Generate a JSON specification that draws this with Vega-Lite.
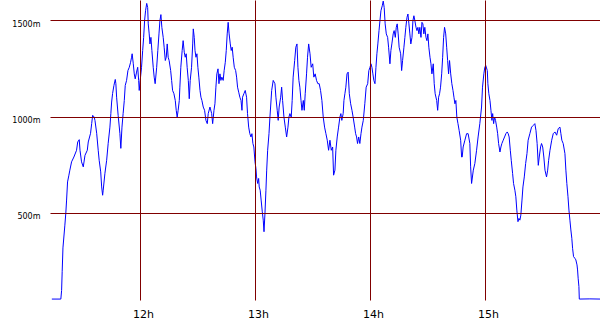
{
  "$schema": "https://vega.github.io/schema/vega-lite/v6.json",
  "width": 550,
  "height": 300,
  "autosize": {"type": "none"},
  "padding": {"left": 50, "top": 0, "right": 0, "bottom": 30},
  "background": "white",
  "config": {"view": {"stroke": null}},
  "data": {"values": [
    {"min":14.0,"alt":54},{"min":16.7,"alt":54},{"min":18.7,"alt":54},{"min":19.1,"alt":98},{"min":19.4,"alt":196},{"min":19.8,"alt":319},{"min":20.8,"alt":437},{"min":21.3,"alt":500},{"min":21.7,"alt":567},{"min":22.2,"alt":661},
    {"min":22.9,"alt":696},{"min":23.4,"alt":722},{"min":24.3,"alt":765},{"min":25.5,"alt":790},{"min":26.9,"alt":825},{"min":27.5,"alt":868},{"min":28.3,"alt":880},{"min":28.7,"alt":825},{"min":29.5,"alt":765},{"min":30.4,"alt":739},
    {"min":31.3,"alt":799},{"min":32.5,"alt":825},{"min":33.0,"alt":868},{"min":34.2,"alt":913},{"min":34.8,"alt":964},{"min":35.3,"alt":1006},{"min":36.1,"alt":997},{"min":36.5,"alt":980},{"min":37.4,"alt":913},{"min":38.2,"alt":825},
    {"min":38.7,"alt":773},{"min":39.5,"alt":713},{"min":40.0,"alt":635},{"min":40.5,"alt":592},{"min":40.8,"alt":618},{"min":41.7,"alt":706},{"min":42.6,"alt":773},{"min":43.4,"alt":861},{"min":44.3,"alt":945},{"min":44.8,"alt":1016},
    {"min":45.2,"alt":1075},{"min":45.7,"alt":1119},{"min":46.4,"alt":1161},{"min":47.1,"alt":1192},{"min":47.4,"alt":1171},{"min":47.8,"alt":1100},{"min":48.6,"alt":1006},{"min":49.5,"alt":913},{"min":50.0,"alt":835},{"min":50.6,"alt":945},
    {"min":51.2,"alt":1016},{"min":51.8,"alt":1083},{"min":52.3,"alt":1161},{"min":53.0,"alt":1187},{"min":53.7,"alt":1238},{"min":54.4,"alt":1255},{"min":55.1,"alt":1281},{"min":55.6,"alt":1307},{"min":55.9,"alt":1325},{"min":56.5,"alt":1273},
    {"min":57.0,"alt":1221},{"min":57.5,"alt":1195},{"min":58.2,"alt":1230},{"min":58.8,"alt":1255},{"min":59.3,"alt":1187},{"min":59.6,"alt":1135},{"min":60.1,"alt":1187},{"min":60.8,"alt":1255},{"min":61.4,"alt":1342},{"min":61.9,"alt":1410},
    {"min":62.4,"alt":1497},{"min":62.9,"alt":1548},{"min":63.5,"alt":1586},{"min":64.0,"alt":1565},{"min":64.3,"alt":1480},{"min":64.8,"alt":1428},{"min":65.2,"alt":1376},{"min":65.7,"alt":1410},{"min":66.2,"alt":1342},{"min":66.9,"alt":1255},
    {"min":67.4,"alt":1204},{"min":67.9,"alt":1170},{"min":68.7,"alt":1255},{"min":69.3,"alt":1342},{"min":69.9,"alt":1428},{"min":70.4,"alt":1497},{"min":70.9,"alt":1528},{"min":71.4,"alt":1462},{"min":72.1,"alt":1410},{"min":72.6,"alt":1359},
    {"min":73.2,"alt":1290},{"min":73.7,"alt":1307},{"min":74.2,"alt":1376},{"min":74.7,"alt":1307},{"min":75.2,"alt":1290},{"min":76.0,"alt":1238},{"min":76.5,"alt":1187},{"min":77.0,"alt":1135},{"min":77.7,"alt":1118},{"min":78.4,"alt":1083},
    {"min":78.9,"alt":1032},{"min":79.4,"alt":997},{"min":79.9,"alt":1032},{"min":80.5,"alt":1083},{"min":80.8,"alt":1152},{"min":81.3,"alt":1255},{"min":82.0,"alt":1342},{"min":82.5,"alt":1393},{"min":83.1,"alt":1333},{"min":83.6,"alt":1307},
    {"min":84.1,"alt":1325},{"min":84.6,"alt":1255},{"min":85.2,"alt":1187},{"min":85.7,"alt":1092},{"min":86.2,"alt":1187},{"min":86.9,"alt":1255},{"min":87.5,"alt":1376},{"min":87.8,"alt":1454},{"min":88.3,"alt":1410},{"min":88.7,"alt":1342},
    {"min":89.2,"alt":1307},{"min":89.7,"alt":1325},{"min":90.2,"alt":1255},{"min":90.7,"alt":1204},{"min":91.3,"alt":1135},{"min":91.8,"alt":1100},{"min":92.3,"alt":1083},{"min":93.0,"alt":1049},{"min":93.7,"alt":1032},{"min":94.4,"alt":980},
    {"min":95.1,"alt":963},{"min":95.6,"alt":1015},{"min":96.5,"alt":1049},{"min":97.4,"alt":1015},{"min":97.9,"alt":963},{"min":98.6,"alt":1032},{"min":99.1,"alt":1066},{"min":99.6,"alt":1152},{"min":100.1,"alt":1221},{"min":100.7,"alt":1247},
    {"min":101.2,"alt":1170},{"min":101.7,"alt":1221},{"min":102.2,"alt":1187},{"min":102.7,"alt":1204},{"min":103.4,"alt":1187},{"min":103.9,"alt":1238},{"min":104.5,"alt":1281},{"min":105.0,"alt":1342},{"min":105.5,"alt":1428},{"min":106.0,"alt":1488},
    {"min":106.5,"alt":1428},{"min":107.1,"alt":1376},{"min":107.6,"alt":1342},{"min":108.1,"alt":1359},{"min":108.6,"alt":1307},{"min":109.2,"alt":1255},{"min":109.9,"alt":1238},{"min":110.4,"alt":1204},{"min":110.9,"alt":1152},{"min":111.5,"alt":1126},
    {"min":112.1,"alt":1100},{"min":112.7,"alt":1083},{"min":113.2,"alt":1032},{"min":113.5,"alt":1100},{"min":114.2,"alt":1118},{"min":114.9,"alt":1135},{"min":115.6,"alt":1100},{"min":116.1,"alt":1015},{"min":116.7,"alt":945},{"min":117.3,"alt":911},
    {"min":117.9,"alt":894},{"min":118.4,"alt":911},{"min":118.9,"alt":860},{"min":119.4,"alt":842},{"min":120.0,"alt":765},{"min":120.5,"alt":730},{"min":120.8,"alt":687},{"min":121.4,"alt":653},{"min":121.9,"alt":679},{"min":122.2,"alt":635},
    {"min":122.7,"alt":618},{"min":123.2,"alt":567},{"min":123.8,"alt":506},{"min":124.3,"alt":463},{"min":124.7,"alt":403},{"min":125.2,"alt":498},{"min":125.7,"alt":618},{"min":126.1,"alt":722},{"min":126.6,"alt":825},{"min":127.3,"alt":911},
    {"min":127.8,"alt":997},{"min":128.7,"alt":1135},{"min":129.5,"alt":1187},{"min":130.4,"alt":1170},{"min":130.9,"alt":1100},{"min":131.6,"alt":1032},{"min":132.1,"alt":980},{"min":132.6,"alt":1049},{"min":133.4,"alt":1100},{"min":133.9,"alt":1152},
    {"min":134.4,"alt":1083},{"min":135.1,"alt":997},{"min":135.8,"alt":945},{"min":136.5,"alt":894},{"min":137.2,"alt":945},{"min":137.7,"alt":997},{"min":138.2,"alt":1015},{"min":138.9,"alt":997},{"min":139.4,"alt":1083},{"min":139.9,"alt":1204},
    {"min":140.7,"alt":1290},{"min":141.3,"alt":1359},{"min":141.9,"alt":1376},{"min":142.4,"alt":1255},{"min":142.9,"alt":1187},{"min":143.4,"alt":1152},{"min":144.0,"alt":1083},{"min":144.5,"alt":1032},{"min":145.2,"alt":1083},{"min":145.7,"alt":1032},
    {"min":146.2,"alt":1118},{"min":146.9,"alt":1221},{"min":147.4,"alt":1307},{"min":148.0,"alt":1376},{"min":148.7,"alt":1325},{"min":149.3,"alt":1255},{"min":150.1,"alt":1273},{"min":150.7,"alt":1204},{"min":151.4,"alt":1221},{"min":152.1,"alt":1187},
    {"min":152.8,"alt":1170},{"min":153.5,"alt":1170},{"min":154.2,"alt":1135},{"min":154.9,"alt":1083},{"min":155.6,"alt":997},{"min":156.3,"alt":945},{"min":157.0,"alt":911},{"min":157.7,"alt":877},{"min":158.4,"alt":825},{"min":159.1,"alt":877},
    {"min":159.8,"alt":825},{"min":160.5,"alt":842},{"min":161.0,"alt":696},{"min":161.7,"alt":722},{"min":162.2,"alt":825},{"min":162.9,"alt":894},{"min":163.6,"alt":945},{"min":164.3,"alt":997},{"min":164.8,"alt":1015},{"min":165.3,"alt":980},
    {"min":166.0,"alt":1015},{"min":166.4,"alt":1083},{"min":166.9,"alt":1118},{"min":167.4,"alt":1152},{"min":168.0,"alt":1221},{"min":168.6,"alt":1230},{"min":169.2,"alt":1118},{"min":169.9,"alt":1066},{"min":170.6,"alt":1032},{"min":171.2,"alt":997},
    {"min":172.0,"alt":945},{"min":172.5,"alt":911},{"min":173.0,"alt":894},{"min":173.5,"alt":860},{"min":174.1,"alt":894},{"min":174.7,"alt":860},{"min":175.3,"alt":911},{"min":175.8,"alt":945},{"min":176.5,"alt":980},{"min":177.3,"alt":1066},
    {"min":178.0,"alt":1152},{"min":178.8,"alt":1170},{"min":179.4,"alt":1238},{"min":180.0,"alt":1255},{"min":180.5,"alt":1273},{"min":181.0,"alt":1255},{"min":181.5,"alt":1221},{"min":182.0,"alt":1187},{"min":182.6,"alt":1170},{"min":183.1,"alt":1255},
    {"min":183.6,"alt":1325},{"min":184.1,"alt":1376},{"min":184.7,"alt":1445},{"min":185.2,"alt":1497},{"min":185.7,"alt":1548},{"min":186.4,"alt":1574},{"min":186.9,"alt":1598},{"min":187.4,"alt":1565},{"min":187.9,"alt":1480},{"min":188.5,"alt":1428},
    {"min":189.2,"alt":1410},{"min":189.7,"alt":1359},{"min":190.4,"alt":1273},{"min":190.9,"alt":1342},{"min":191.4,"alt":1376},{"min":192.1,"alt":1428},{"min":192.6,"alt":1445},{"min":193.2,"alt":1410},{"min":193.7,"alt":1462},{"min":194.2,"alt":1480},
    {"min":194.7,"alt":1428},{"min":195.2,"alt":1359},{"min":196.0,"alt":1325},{"min":196.5,"alt":1238},{"min":197.0,"alt":1290},{"min":197.7,"alt":1359},{"min":198.2,"alt":1410},{"min":198.7,"alt":1462},{"min":199.3,"alt":1514},{"min":199.8,"alt":1531},
    {"min":200.3,"alt":1480},{"min":200.8,"alt":1428},{"min":201.3,"alt":1376},{"min":201.9,"alt":1410},{"min":202.4,"alt":1497},{"min":202.9,"alt":1522},{"min":203.4,"alt":1497},{"min":204.0,"alt":1462},{"min":204.5,"alt":1445},{"min":205.0,"alt":1462},
    {"min":205.5,"alt":1428},{"min":206.0,"alt":1462},{"min":206.6,"alt":1410},{"min":207.1,"alt":1488},{"min":207.6,"alt":1480},{"min":208.1,"alt":1428},{"min":208.6,"alt":1462},{"min":209.2,"alt":1410},{"min":209.7,"alt":1393},{"min":210.2,"alt":1428},
    {"min":210.7,"alt":1359},{"min":211.3,"alt":1307},{"min":211.8,"alt":1273},{"min":212.3,"alt":1221},{"min":213.0,"alt":1273},{"min":213.5,"alt":1170},{"min":214.0,"alt":1118},{"min":214.8,"alt":1083},{"min":215.3,"alt":1032},{"min":215.8,"alt":1100},
    {"min":216.3,"alt":1118},{"min":216.8,"alt":1152},{"min":217.4,"alt":1221},{"min":217.9,"alt":1307},{"min":218.4,"alt":1410},{"min":218.9,"alt":1462},{"min":219.5,"alt":1428},{"min":220.0,"alt":1359},{"min":220.5,"alt":1290},{"min":221.0,"alt":1221},
    {"min":221.5,"alt":1290},{"min":222.1,"alt":1221},{"min":222.7,"alt":1170},{"min":223.3,"alt":1135},{"min":223.8,"alt":1100},{"min":224.3,"alt":1066},{"min":224.8,"alt":1083},{"min":225.3,"alt":997},{"min":225.9,"alt":963},{"min":226.5,"alt":928},
    {"min":227.3,"alt":877},{"min":227.8,"alt":790},{"min":228.1,"alt":790},{"min":228.6,"alt":842},{"min":229.5,"alt":877},{"min":230.4,"alt":911},{"min":231.2,"alt":911},{"min":232.1,"alt":860},{"min":232.5,"alt":739},{"min":233.0,"alt":653},
    {"min":233.9,"alt":722},{"min":234.7,"alt":756},{"min":235.6,"alt":825},{"min":236.4,"alt":894},{"min":237.3,"alt":963},{"min":238.2,"alt":1049},{"min":238.7,"alt":1152},{"min":239.4,"alt":1221},{"min":239.9,"alt":1255},{"min":240.4,"alt":1264},
    {"min":241.2,"alt":1238},{"min":241.5,"alt":1170},{"min":242.0,"alt":1118},{"min":242.6,"alt":1083},{"min":243.1,"alt":1032},{"min":243.6,"alt":980},{"min":244.0,"alt":1015},{"min":244.5,"alt":963},{"min":245.0,"alt":997},{"min":245.5,"alt":980},
    {"min":246.1,"alt":945},{"min":246.6,"alt":911},{"min":247.1,"alt":860},{"min":247.8,"alt":816},{"min":248.3,"alt":842},{"min":248.8,"alt":860},{"min":249.5,"alt":877},{"min":250.2,"alt":894},{"min":250.9,"alt":911},{"min":251.6,"alt":920},
    {"min":252.1,"alt":911},{"min":252.6,"alt":894},{"min":253.2,"alt":825},{"min":253.7,"alt":773},{"min":254.4,"alt":705},{"min":254.9,"alt":653},{"min":255.6,"alt":618},{"min":256.1,"alt":584},{"min":256.6,"alt":515},{"min":257.2,"alt":455},
    {"min":257.7,"alt":472},{"min":258.2,"alt":463},{"min":258.7,"alt":489},{"min":259.3,"alt":567},{"min":259.8,"alt":635},{"min":260.5,"alt":687},{"min":261.2,"alt":756},{"min":261.9,"alt":808},{"min":262.5,"alt":877},{"min":263.4,"alt":911},
    {"min":264.3,"alt":945},{"min":265.2,"alt":954},{"min":266.0,"alt":963},{"min":266.6,"alt":928},{"min":267.2,"alt":860},{"min":267.8,"alt":747},{"min":268.3,"alt":790},{"min":269.0,"alt":842},{"min":269.5,"alt":860},{"min":270.1,"alt":842},
    {"min":270.7,"alt":790},{"min":271.3,"alt":722},{"min":272.1,"alt":687},{"min":272.7,"alt":722},{"min":273.2,"alt":773},{"min":273.9,"alt":825},{"min":274.8,"alt":877},{"min":275.6,"alt":911},{"min":276.5,"alt":920},{"min":277.4,"alt":903},
    {"min":278.2,"alt":937},{"min":279.1,"alt":945},{"min":279.6,"alt":911},{"min":280.1,"alt":877},{"min":280.8,"alt":860},{"min":281.7,"alt":808},{"min":282.2,"alt":722},{"min":282.7,"alt":653},{"min":283.3,"alt":584},{"min":283.8,"alt":515},
    {"min":284.3,"alt":463},{"min":284.8,"alt":412},{"min":285.3,"alt":369},{"min":285.7,"alt":317},{"min":286.2,"alt":274},{"min":286.9,"alt":265},{"min":287.4,"alt":257},{"min":288.0,"alt":231},{"min":288.3,"alt":205},{"min":288.6,"alt":162},
    {"min":289.0,"alt":119},{"min":289.2,"alt":54},{"min":294.7,"alt":55},{"min":300.0,"alt":54}
  ]},
  "mark": {"type": "line", "color": "#0000ff", "strokeWidth": 1, "clip": true},
  "encoding": {
    "x": {
      "field": "min", "type": "quantitative",
      "scale": {"domain": [13.043, 300], "nice": false, "zero": false},
      "axis": {
        "title": null, "values": [60, 120, 180, 240],
        "labelExpr": "(datum.value / 60 + 11) + 'h'",
        "domain": false, "ticks": false, "labelPadding": 8,
        "labelFont": "DejaVu Sans", "labelFontSize": 11, "labelColor": "#000000",
        "labelOffset": 3,
        "grid": true, "gridColor": "#800000", "gridWidth": 1, "gridOpacity": 1,
        "zindex": 1
      }
    },
    "y": {
      "field": "alt", "type": "quantitative",
      "scale": {"domain": [49.22, 1603.63], "nice": false, "zero": false},
      "axis": {
        "title": null, "values": [500, 1000, 1500],
        "labelExpr": "datum.value + 'm'",
        "domain": false, "ticks": false, "labelPadding": 10,
        "labelFont": "DejaVu Sans", "labelFontSize": 8, "labelColor": "#000000",
        "labelBaseline": "middle", "labelOffset": 4,
        "grid": true, "gridColor": "#800000", "gridWidth": 1, "gridOpacity": 1,
        "zindex": 1
      }
    }
  }
}
